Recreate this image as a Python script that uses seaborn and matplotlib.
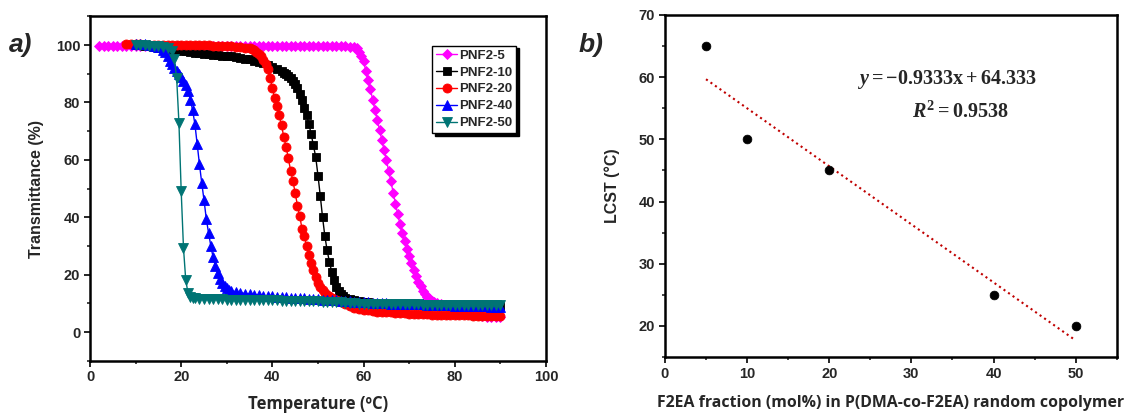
import numpy as np
import pandas as pd
import matplotlib
matplotlib.use("Agg")
import matplotlib.pyplot as plt
import seaborn as sns

# ---------------- data (panel a) ----------------
t5 = [2, 3, 4, 5, 6, 7, 8, 9, 10, 11, 12, 13, 14, 15, 16, 17, 18, 19, 20, 21, 22, 23, 24, 25, 26, 27, 28, 29,
      30, 31, 32, 33, 34, 35, 36, 37, 38, 39, 40, 41, 42, 43, 44, 45, 46, 47, 48, 49, 50, 51, 52, 53, 54, 55,
      56, 57, 58, 58.5, 59, 59.5, 60, 60.5, 61, 61.5, 62, 62.5, 63, 63.5, 64, 64.5, 65, 65.5, 66, 66.5, 67,
      67.5, 68, 68.5, 69, 69.5, 70, 70.5, 71, 71.5, 72, 72.5, 73, 73.5, 74, 74.5, 75, 75.5, 76, 77, 78, 79,
      80, 81, 82, 83, 84, 85, 86, 87, 88, 89, 90]
y5 = [99.5, 99.5, 99.5, 99.5, 99.5, 99.5, 99.5, 99.5, 99.5, 99.5, 99.5, 99.5, 99.5, 99.5, 99.5, 99.5, 99.5,
      99.5, 99.5, 99.5, 99.5, 99.5, 99.5, 99.5, 99.5, 99.5, 99.5, 99.5, 99.5, 99.5, 99.5, 99.5, 99.5, 99.5,
      99.5, 99.5, 99.5, 99.5, 99.5, 99.5, 99.5, 99.5, 99.5, 99.5, 99.5, 99.5, 99.5, 99.5, 99.5, 99.5, 99.5,
      99.5, 99.5, 99.5, 99.5, 99.4, 99.3, 98.8, 97.6, 96.2, 94.4, 90.9, 87.7, 84.5, 81.0, 77.5, 74.0, 70.5,
      67.0, 63.5, 60.0, 56.2, 52.5, 48.5, 44.7, 41.0, 37.5, 34.5, 31.6, 29.0, 26.5, 24.0, 21.6, 19.5, 17.6,
      15.9, 14.4, 13.1, 12.1, 11.4, 10.8, 10.4, 10.1, 9.7, 9.2, 8.5, 7.6, 6.9, 6.5, 6.2, 6.0, 5.8, 5.6, 5.4,
      5.3, 5.2, 5.1]

t10 = [10, 11, 12, 13, 14, 15, 16, 17, 18, 19, 20, 21, 22, 23, 24, 25, 26, 27, 28, 29, 30, 31, 32, 33, 34,
       35, 36, 37, 38, 39, 40, 41, 42, 42.5, 43, 43.5, 44, 44.5, 45, 45.5, 46, 46.5, 47, 47.5, 48, 48.5, 49,
       49.5, 50, 50.5, 51, 51.5, 52, 52.5, 53, 53.5, 54, 54.5, 55, 55.5, 56, 57, 58, 59, 60, 61, 62, 63, 64,
       65, 66, 67, 68, 69, 70, 71, 72, 73, 74, 75, 76, 77, 78, 79, 80, 81, 82, 83, 84, 85, 86, 87, 88, 89, 90]
y10 = [100.0, 99.9, 99.7, 99.5, 99.3, 99.1, 98.9, 98.7, 98.4, 98.2, 98.0, 97.8, 97.5, 97.3, 97.1, 96.9, 96.7,
       96.6, 96.4, 96.3, 96.1, 96.0, 95.8, 95.6, 95.3, 95.0, 94.6, 94.1, 93.6, 93.0, 92.4, 91.7, 90.9, 90.4,
       89.8, 89.1, 88.4, 87.5, 86.3, 84.9, 83.0, 80.8, 78.0, 75.5, 72.5, 69.0, 65.0, 61.0, 54.5, 47.5, 40.0,
       33.5, 28.5, 24.5, 21.0, 18.0, 15.8, 14.2, 13.2, 12.5, 12.0, 11.4, 11.0, 10.7, 10.5, 10.3, 10.2, 10.1,
       10.0, 9.9, 9.9, 9.8, 9.8, 9.7, 9.7, 9.6, 9.6, 9.5, 9.5, 9.5, 9.4, 9.4, 9.4, 9.3, 9.3, 9.3, 9.2, 9.2,
       9.2, 9.1, 9.1, 9.1, 9.0, 9.0, 9.0]

t20 = [8, 9, 10, 11, 12, 13, 14, 15, 16, 17, 18, 19, 20, 21, 22, 23, 24, 25, 26, 27, 28, 29, 30, 31, 32, 33,
       34, 35, 35.5, 36, 36.5, 37, 37.5, 38, 38.5, 39, 39.5, 40, 40.5, 41, 41.5, 42, 42.5, 43, 43.5, 44, 44.5,
       45, 45.5, 46, 46.5, 47, 47.5, 48, 48.5, 49, 49.5, 50, 50.5, 51, 51.5, 52, 52.5, 53, 53.5, 54, 54.5, 55,
       56, 57, 58, 59, 60, 61, 62, 63, 64, 65, 66, 67, 68, 69, 70, 71, 72, 73, 74, 75, 76, 77, 78, 79, 80, 81,
       82, 83, 84, 85, 86, 87, 88, 89, 90]
y20 = [100.3, 100.3, 100.2, 100.2, 100.1, 100.1, 100.0, 100.0, 100.0, 100.0, 100.0, 100.0, 100.0, 100.0,
       100.0, 99.9, 99.9, 99.9, 99.9, 99.8, 99.8, 99.7, 99.6, 99.5, 99.4, 99.3, 99.1, 98.8, 98.5, 98.1, 97.6,
       96.9, 96.0, 94.8, 93.3, 91.5, 88.5, 85.0, 81.5, 78.8, 75.5, 72.0, 68.0, 64.5, 60.5, 56.2, 52.6, 48.5,
       44.0, 40.3, 36.0, 33.4, 30.1, 27.0, 24.2, 21.6, 19.3, 17.2, 15.7, 14.6, 13.7, 13.0, 12.4, 12.0, 11.6,
       11.2, 10.8, 10.5, 9.7, 9.0, 8.4, 8.0, 7.7, 7.5, 7.3, 7.1, 7.0, 6.9, 6.8, 6.7, 6.6, 6.5, 6.4, 6.3, 6.3,
       6.2, 6.2, 6.1, 6.1, 6.0, 6.0, 5.9, 5.9, 5.8, 5.8, 5.8, 5.7, 5.7, 5.7, 5.6, 5.6, 5.6, 5.6]

t40 = [10, 11, 12, 13, 14, 15, 16, 16.5, 17, 17.5, 18, 18.5, 19, 19.5, 20, 20.5, 21, 21.5, 22, 22.5, 23, 23.5,
       24, 24.5, 25, 25.5, 26, 26.5, 27, 27.5, 28, 28.5, 29, 29.5, 30, 30.5, 31, 32, 33, 34, 35, 36, 37, 38,
       39, 40, 41, 42, 43, 44, 45, 46, 47, 48, 49, 50, 51, 52, 53, 54, 55, 56, 57, 58, 59, 60, 61, 62, 63, 64,
       65, 66, 67, 68, 69, 70, 71, 72, 73, 74, 75, 76, 77, 78, 79, 80, 81, 82, 83, 84, 85, 86, 87, 88, 89, 90]
y40 = [100.5, 100.5, 100.3, 100.0, 99.7, 99.2, 98.3, 97.5, 96.0, 94.5, 93.3, 92.0, 90.8, 89.8, 88.8, 87.4,
       86.0, 84.0, 81.0, 77.3, 72.5, 65.5, 58.5, 52.0, 46.0, 39.5, 34.5, 30.0, 26.0, 23.0, 20.5, 18.5, 17.0,
       15.9, 15.2, 14.7, 14.4, 14.0, 13.7, 13.4, 13.2, 13.0, 12.9, 12.7, 12.6, 12.4, 12.3, 12.2, 12.1, 12.0,
       11.9, 11.8, 11.7, 11.6, 11.5, 11.4, 11.3, 11.2, 11.1, 11.0, 10.9, 10.8, 10.7, 10.6, 10.5, 10.4, 10.3,
       10.2, 10.1, 10.0, 10.0, 9.9, 9.9, 9.8, 9.8, 9.7, 9.7, 9.6, 9.6, 9.5, 9.5, 9.4, 9.4, 9.3, 9.3, 9.2, 9.2,
       9.1, 9.1, 9.0, 9.0, 8.9, 8.9, 8.8, 8.8, 8.7]

t50 = [10, 11, 12, 13, 14, 15, 16, 17, 18, 18.5, 19, 19.5, 20, 20.5, 21, 21.5, 22, 22.5, 23, 24, 25, 26, 27,
       28, 29, 30, 31, 32, 33, 34, 35, 36, 37, 38, 39, 40, 41, 42, 43, 44, 45, 46, 47, 48, 49, 50, 51, 52, 53,
       54, 55, 56, 57, 58, 59, 60, 61, 62, 63, 64, 65, 66, 67, 68, 69, 70, 71, 72, 73, 74, 75, 76, 77, 78, 79,
       80, 81, 82, 83, 84, 85, 86, 87, 88, 89, 90]
y50 = [100.0, 100.0, 99.9, 99.8, 99.7, 99.5, 99.3, 99.0, 97.8, 95.0, 88.5, 73.0, 49.0, 29.3, 18.0, 13.6,
       12.3, 11.9, 11.7, 11.6, 11.5, 11.5, 11.4, 11.4, 11.4, 11.3, 11.3, 11.3, 11.2, 11.2, 11.2, 11.1, 11.1,
       11.1, 11.0, 11.0, 11.0, 10.9, 10.9, 10.9, 10.8, 10.8, 10.8, 10.7, 10.7, 10.7, 10.6, 10.6, 10.5, 10.4,
       10.3, 10.2, 10.1, 10.0, 9.9, 9.9, 9.8, 9.8, 9.8, 9.7, 9.7, 9.7, 9.7, 9.6, 9.6, 9.6, 9.6, 9.6, 9.5, 9.5,
       9.5, 9.5, 9.5, 9.5, 9.5, 9.5, 9.5, 9.5, 9.5, 9.5, 9.5, 9.5, 9.5, 9.5, 9.5, 9.5]

series_names = ["PNF2-5", "PNF2-10", "PNF2-20", "PNF2-40", "PNF2-50"]

# ---------------- data (panel b) ----------------
f2ea_fraction = [5, 10, 20, 40, 50]
lcst = [65, 50, 45, 25, 20]
equation_text = r"$y = -0.9333\mathrm{x} + 64.333$"
r2_text = r"$R^2 = 0.9538$"

# ---------------- style ----------------
sns.set_style("ticks")
plt.rcParams["font.family"] = ["Liberation Sans", "DejaVu Sans"]
plt.rcParams["font.weight"] = "bold"
plt.rcParams["mathtext.fontset"] = "custom"
plt.rcParams["mathtext.rm"] = "Liberation Serif:bold"
plt.rcParams["mathtext.it"] = "Liberation Serif:italic:bold"
plt.rcParams["mathtext.bf"] = "Liberation Serif:bold"

fig = plt.figure(figsize=(11.28, 4.13), dpi=100)
axA = fig.add_axes([0.0798, 0.1266, 0.4042, 0.8339])
axB = fig.add_axes([0.5895, 0.1356, 0.4005, 0.8281])

colors = ["#FF00FF", "#000000", "#FF0000", "#0000FF", "#007474"]
markers = ["D", "s", "o", "^", "v"]
msizes = [5.5, 5.5, 6.5, 6.5, 6.5]
xs = [t5, t10, t20, t40, t50]
ys = [y5, y10, y20, y40, y50]

for name, tx, ty, c, m, ms in zip(series_names, xs, ys, colors, markers, msizes):
    df = pd.DataFrame({"T": tx, "Tr": ty})
    sns.lineplot(data=df, x="T", y="Tr", ax=axA, color=c, marker=m, markersize=ms,
                 markeredgecolor=c, markeredgewidth=0.6, linewidth=1.0,
                 estimator=None, sort=False, label=name)

axA.set_xlim(0, 100)
axA.set_ylim(-10, 110)
axA.set_xticks([0, 20, 40, 60, 80, 100])
axA.set_xticks([10, 30, 50, 70, 90], minor=True)
axA.set_yticks([0, 20, 40, 60, 80, 100])
axA.set_yticks([-10, 10, 30, 50, 70, 90, 110], minor=True)
axA.set_xlabel("Temperature (\u00baC)", fontsize=12, fontweight="bold", family=["Open Sans", "DejaVu Sans"])
axA.set_ylabel("Transmittance (%)", fontsize=11.5, fontweight="bold")
axA.xaxis.set_label_coords(0.5, -0.1)
axA.yaxis.set_label_coords(-0.1, 0.5)

leg = axA.legend(loc="upper right", bbox_to_anchor=(0.935, 0.915), frameon=True, fancybox=False,
                 shadow={"color": "black", "alpha": 1.0}, fontsize=9.5, handlelength=1.6,
                 handletextpad=0.15, borderpad=0.3, labelspacing=0.35, borderaxespad=0)
leg.get_frame().set_edgecolor("black")
leg.get_frame().set_linewidth(1.0)
for t in leg.get_texts():
    t.set_fontweight("bold")

# panel b
sns.regplot(x=f2ea_fraction, y=lcst, ax=axB, ci=None, scatter=False, truncate=True,
            line_kws=dict(color="#C00000", linestyle=":", linewidth=1.5))
sns.scatterplot(x=f2ea_fraction, y=lcst, ax=axB, color="black", s=40, edgecolor="black", zorder=3)
axB.set_xlim(0, 55)
axB.set_ylim(15, 70)
axB.set_xticks([0, 10, 20, 30, 40, 50])
axB.set_xticks([5, 15, 25, 35, 45, 55], minor=True)
axB.set_yticks([20, 30, 40, 50, 60, 70])
axB.set_yticks([15, 25, 35, 45, 55, 65], minor=True)
axB.set_xlabel("F2EA fraction (mol%) in P(DMA-co-F2EA) random copolymer", fontsize=11.4,
               fontweight="bold", family=["Open Sans", "DejaVu Sans"])
axB.set_ylabel("LCST (\u00b0C)", fontsize=11.5, fontweight="bold")
axB.xaxis.set_label_coords(0.5, -0.112)
axB.yaxis.set_label_coords(-0.1, 0.5)
axB.text(34.3, 59.7, equation_text, fontsize=14.5, ha="center", va="center")
axB.text(36.0, 54.6, r2_text, fontsize=14.5, ha="center", va="center")

for ax in (axA, axB):
    for sp in ax.spines.values():
        sp.set_linewidth(1.8)
        sp.set_color("black")
    ax.tick_params(which="major", direction="out", length=4, width=1.4, labelsize=10.5, pad=3)
    ax.tick_params(which="minor", direction="out", length=2.5, width=1.2)
    ax.tick_params(top=False, right=False)
    for lab in ax.get_xticklabels() + ax.get_yticklabels():
        lab.set_fontweight("bold")

fig.text(0.008, 0.875, "a)", fontsize=19, fontweight="bold", style="italic")
fig.text(0.513, 0.875, "b)", fontsize=19, fontweight="bold", style="italic")

fig.savefig("out.png", dpi=100)
